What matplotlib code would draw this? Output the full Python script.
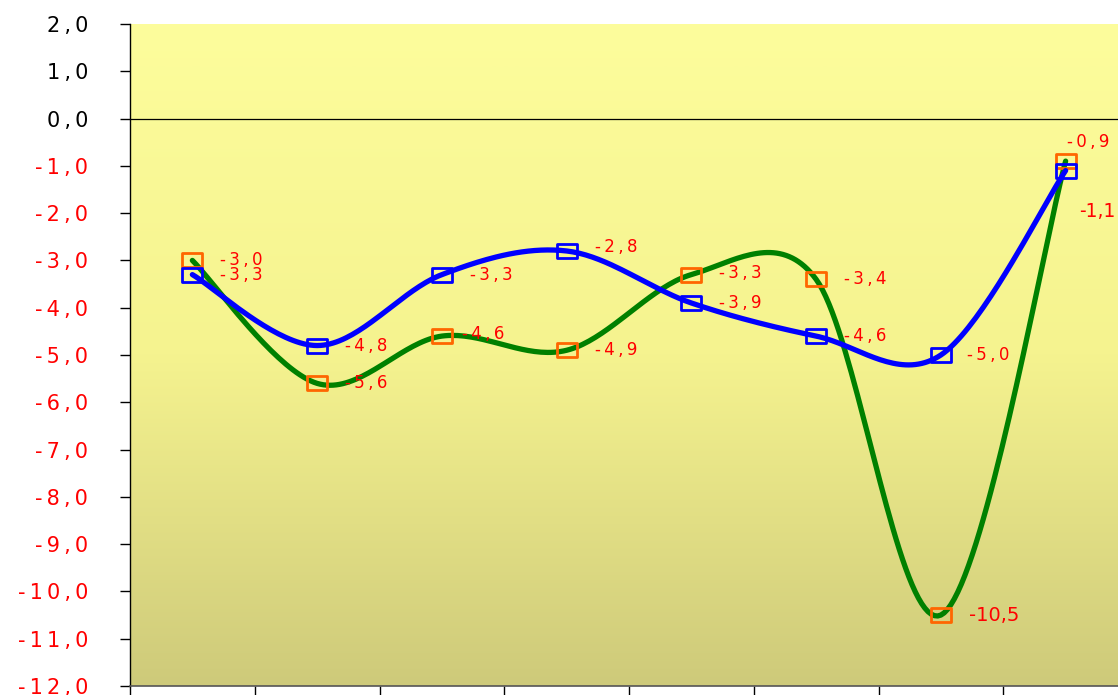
import numpy as np
import matplotlib
matplotlib.use("Agg")
import matplotlib.pyplot as plt
from matplotlib.path import Path
from matplotlib.colors import LinearSegmentedColormap

# ---- data ----
categories = [1, 2, 3, 4, 5, 6, 7, 8]
series_green = [-3.0, -5.6, -4.6, -4.9, -3.3, -3.4, -10.5, -0.9]
series_blue = [-3.3, -4.8, -3.3, -2.8, -3.9, -4.6, -5.0, -1.1]
y_ticks = [2, 1, 0, -1, -2, -3, -4, -5, -6, -7, -8, -9, -10, -11, -12]
green_labels = ["-3,0", "-5,6", "-4,6", "-4,9", "-3,3", "-3,4", "-10,5", "-0,9"]
blue_labels = ["-3,3", "-4,8", "-3,3", "-2,8", "-3,9", "-4,6", "-5,0", "-1,1"]

# label layout (pixel offsets, font size, letter spacing) - style only
green_off = [(28, 0), (28, 0), (20, 2), (28, 0), (28, 2), (28, 0), (28, 0), (1, 19)]
blue_off = [(28, 0), (28, 0), (28, 0), (28, 4), (28, 0), (28, 0), (26, 0), (13, -41)]
green_fs = [12] * 6 + [14, 12]
blue_fs = [12] * 7 + [13.5]
green_sp = [True] * 6 + [False, True]
blue_sp = [True] * 7 + [False]

THIN = "\u2009"
FONT = ['DejaVu Sans']

W, H = 1118, 695
AX_RECT = [130 / W, 9 / H, 998 / W, 662 / H]
XLIM = (0.5, 8.5)
YLIM = (-12, 2)


def spaced(s):
    return THIN.join(list(s))


def fmt_tick(v):
    return spaced(f"{v:.1f}".replace(".", ","))


def smooth(xs, ys, n=40):
    """Excel-like smoothed line: Bezier segments built in pixel space."""
    axw = AX_RECT[2] * W
    axh = AX_RECT[3] * H
    sx = axw / (XLIM[1] - XLIM[0])
    sy = axh / (YLIM[1] - YLIM[0])
    P = np.column_stack([np.asarray(xs, float) * sx, np.asarray(ys, float) * sy])
    m = len(P)
    fwd = np.zeros_like(P)
    bwd = np.zeros_like(P)
    for i in range(m):
        p0 = P[i - 1] if i > 0 else P[i]
        p2 = P[i + 1] if i + 1 < m else P[i]
        T = p2 - p0
        d02 = np.hypot(*T)
        if d02 == 0:
            continue
        d01 = np.hypot(*(P[i] - p0))
        d12 = np.hypot(*(p2 - P[i]))
        u = T / d02
        fwd[i] = u * min(d02 / 6.0, d12 / 2.0)
        bwd[i] = u * min(d02 / 6.0, d01 / 2.0)
    out = [P[0]]
    t = np.linspace(0, 1, n)[1:, None]
    for i in range(m - 1):
        p1 = P[i]
        p2 = P[i + 1]
        c1 = p1 + fwd[i]
        c2 = p2 - bwd[i + 1]
        seg = ((1 - t) ** 3) * p1 + 3 * ((1 - t) ** 2) * t * c1 + 3 * (1 - t) * t ** 2 * c2 + t ** 3 * p2
        out.extend(seg)
    out = np.array(out)
    return out[:, 0] / sx, out[:, 1] / sy


plt.rcParams['font.family'] = FONT

fig = plt.figure(figsize=(W / 100, H / 100), dpi=100)
ax = fig.add_axes(AX_RECT)

# gradient background
cmap = LinearSegmentedColormap.from_list("bg", ["#FDFD9C", "#F5F38F", "#CECA7A"])
grad = np.linspace(0, 1, 256)[:, None]
ax.imshow(grad, extent=[XLIM[0], XLIM[1], YLIM[0], YLIM[1]], aspect='auto', cmap=cmap,
          zorder=0, interpolation='bicubic')

ax.axhline(0, color='black', lw=0.9, zorder=1)

rect = Path([(-1, -0.75), (1, -0.75), (1, 0.75), (-1, 0.75), (-1, -0.75)],
            [Path.MOVETO, Path.LINETO, Path.LINETO, Path.LINETO, Path.CLOSEPOLY])

gx, gy = smooth(categories, series_green)
ax.plot(gx, gy, color='#008000', lw=3.8, zorder=3, solid_capstyle='round')
ax.plot(categories, series_green, ls='none', marker=rect, markersize=14,
        markerfacecolor='none', markeredgecolor='#FF6600', markeredgewidth=2.0, zorder=3.5)

bx, by = smooth(categories, series_blue)
ax.plot(bx, by, color='#0000FF', lw=3.8, zorder=4, solid_capstyle='round')
ax.plot(categories, series_blue, ls='none', marker=rect, markersize=14,
        markerfacecolor='none', markeredgecolor='#0000FF', markeredgewidth=2.0, zorder=4.5)

px2pt = 72 / 100
for xs, ys, labs, offs, fss, sps in [
        (categories, series_green, green_labels, green_off, green_fs, green_sp),
        (categories, series_blue, blue_labels, blue_off, blue_fs, blue_sp)]:
    for x, y, lab, off, fs, sp in zip(xs, ys, labs, offs, fss, sps):
        ax.annotate(spaced(lab) if sp else lab, (x, y),
                    xytext=(off[0] * px2pt, off[1] * px2pt),
                    textcoords='offset points', ha='left', va='center',
                    color='#FF0000', fontsize=fs, zorder=6)

ax.set_xlim(*XLIM)
ax.set_ylim(*YLIM)

ax.set_yticks(y_ticks)
ax.set_yticklabels([fmt_tick(v) for v in y_ticks])
for lbl, v in zip(ax.get_yticklabels(), y_ticks):
    lbl.set_color('black' if v >= 0 else '#FF0000')
ax.tick_params(axis='y', direction='out', length=7.2, width=1, color='black',
               pad=23, labelsize=15)
ax.set_xticks(np.arange(0.5, 8.6, 1.0))
ax.set_xticklabels([])
ax.tick_params(axis='x', direction='out', length=7.2, width=1, color='black')

for s in ['top', 'right']:
    ax.spines[s].set_visible(False)
ax.spines['left'].set_color('black')
ax.spines['left'].set_linewidth(1)
ax.spines['bottom'].set_color('#555555')
ax.spines['bottom'].set_linewidth(1.2)

fig.savefig("out.png", dpi=100)
